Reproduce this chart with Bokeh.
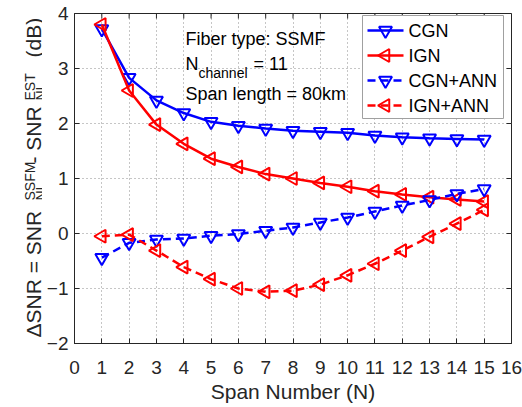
import math
from bokeh.plotting import figure
from bokeh.layouts import row
from bokeh.models import ColumnDataSource, Label, FixedTicker
from bokeh.core.properties import value
from bokeh.embed import file_html
from bokeh.resources import INLINE

# ---------------- data ----------------
spans = list(range(1, 16))
cgn = [3.72, 2.83, 2.42, 2.19, 2.03, 1.96, 1.91, 1.87, 1.85, 1.83, 1.78, 1.75, 1.73, 1.72, 1.71]
ign = [3.80, 2.60, 1.98, 1.63, 1.36, 1.21, 1.08, 1.00, 0.92, 0.85, 0.77, 0.71, 0.66, 0.62, 0.58]
cgn_ann = [-0.44, -0.17, -0.11, -0.09, -0.04, -0.01, 0.05, 0.11, 0.20, 0.29, 0.40, 0.51, 0.61, 0.72, 0.81]
ign_ann = [-0.05, -0.02, -0.31, -0.61, -0.83, -1.00, -1.06, -1.04, -0.93, -0.76, -0.55, -0.31, -0.06, 0.18, 0.43]

x_ticks = list(range(0, 17))
y_ticks = list(range(-2, 5))

series_names = ["CGN", "IGN", "CGN+ANN", "IGN+ANN"]

src = ColumnDataSource(dict(x=spans, cgn=cgn, ign=ign, cgn_ann=cgn_ann, ign_ann=ign_ann))

FONT = "Liberation Sans"
TXT = "#262626"
BLUE = "#0000ff"
RED = "#ff0000"

# ---------------- geometry ----------------
H = 407
LEFT_W = 42
AXIS_W = 32
FW, FH = 437, 330
TOP_B, BOT_B = 13, 64
X0, X1, Y0, Y1 = 0, 16, -2, 4

p = figure(frame_width=FW, frame_height=FH, x_range=(X0, X1), y_range=(Y0, Y1),
           output_backend="svg", toolbar_location=None,
           min_border_left=AXIS_W, min_border_right=11, min_border_top=TOP_B,
           min_border_bottom=BOT_B)
p.outline_line_color = TXT
p.background_fill_color = "white"
p.border_fill_color = "white"

for ax in (p.xaxis[0], p.yaxis[0]):
    ax.major_tick_in = 5
    ax.major_tick_out = 0
    ax.minor_tick_in = 0
    ax.minor_tick_out = 0
    ax.axis_line_color = TXT
    ax.major_tick_line_color = TXT
    ax.major_label_text_font = FONT
    ax.major_label_text_font_size = "19px"
    ax.major_label_text_color = TXT
p.xaxis.ticker = FixedTicker(ticks=x_ticks)
p.yaxis.ticker = FixedTicker(ticks=y_ticks)
p.xaxis.major_label_standoff = 17
p.yaxis.major_label_standoff = 6
p.xaxis.axis_label = "Span Number (N)"
p.xaxis.axis_label_text_font = FONT
p.xaxis.axis_label_text_font_size = "21px"
p.xaxis.axis_label_text_font_style = "normal"
p.xaxis.axis_label_text_color = TXT
p.xaxis.axis_label_standoff = 3

# inward ticks on top and right box edges
p.ray(x=x_ticks, y=[Y1] * len(x_ticks), length=5, length_units="screen",
      angle=-math.pi / 2, line_color=TXT, line_width=1)
p.ray(x=[X1] * len(y_ticks), y=y_ticks, length=5, length_units="screen",
      angle=math.pi, line_color=TXT, line_width=1)

# grid
p.xgrid.ticker = FixedTicker(ticks=x_ticks)
p.ygrid.ticker = FixedTicker(ticks=y_ticks)
for g in (p.xgrid[0], p.ygrid[0]):
    g.grid_line_color = "#8c8c8c"
    g.grid_line_dash = "1 3"
    g.grid_line_width = 1

MS = 13
LW = 2.5
DASH = "8 5"
p.line("x", "cgn", source=src, line_color=BLUE, line_width=LW)
p.scatter("x", "cgn", source=src, marker="inverted_triangle", size=MS,
          fill_color=None, line_color=BLUE, line_width=2)
p.line("x", "ign", source=src, line_color=RED, line_width=LW)
p.scatter("x", "ign", source=src, marker="triangle", angle=math.pi / 2, size=MS,
          fill_color=None, line_color=RED, line_width=2)
p.line("x", "cgn_ann", source=src, line_color=BLUE, line_width=LW, line_dash=DASH)
p.scatter("x", "cgn_ann", source=src, marker="inverted_triangle", size=MS,
          fill_color=None, line_color=BLUE, line_width=2)
p.line("x", "ign_ann", source=src, line_color=RED, line_width=LW, line_dash=DASH)
p.scatter("x", "ign_ann", source=src, marker="triangle", angle=math.pi / 2, size=MS,
          fill_color=None, line_color=RED, line_width=2)

# ---------------- legend (drawn by hand so marker directions are kept) ----------------
px_x = (X1 - X0) / FW
px_y = (Y1 - Y0) / FH
def dx(px):
    return X0 + px * px_x
def dy(px):
    return Y0 + px * px_y

LEG_L, LEG_R, LEG_T, LEG_B = 288, 429, 328, 225   # px inside the frame
ROW0, ROW_STEP = 313, 25
SAMPLE_L, SAMPLE_R, TEXT_X = 293, 329, 334
leg_colors = [BLUE, RED, BLUE, RED]
leg_markers = ["inverted_triangle", "triangle", "inverted_triangle", "triangle"]
leg_angles = [0, math.pi / 2, 0, math.pi / 2]
leg_dash = ["solid", "solid", DASH, DASH]

p.quad(left=[dx(LEG_L)], right=[dx(LEG_R)], top=[dy(LEG_T)], bottom=[dy(LEG_B)],
       fill_color="white", line_color="#a0a0a0", line_width=1)
for i, name in enumerate(series_names):
    ry = ROW0 - i * ROW_STEP
    p.segment(x0=[dx(SAMPLE_L)], x1=[dx(SAMPLE_R)], y0=[dy(ry)], y1=[dy(ry)],
              line_color=leg_colors[i], line_width=LW, line_dash=leg_dash[i])
    p.scatter(x=[dx((SAMPLE_L + SAMPLE_R) / 2)], y=[dy(ry)], marker=leg_markers[i],
              angle=leg_angles[i], size=MS, fill_color=None, line_color=leg_colors[i],
              line_width=2)
    p.add_layout(Label(x=TEXT_X, y=ry, x_units="screen", y_units="screen", text=name,
                       text_align="left", text_baseline="middle", text_font=FONT,
                       text_font_size="18px", text_color="black"))

# annotation text
def ann(text, x, y, size):
    p.add_layout(Label(x=x, y=y, x_units="screen", y_units="screen", text=text,
                       text_align="left", text_baseline="alphabetic",
                       text_font=FONT, text_font_size=size, text_color="black"))

ann("Fiber type: SSMF", 111, 305, "18px")
ann("N", 111, 280, "18px")
ann("channel", 124, 271, "14px")
ann("= 11", 179, 280, "18px")
ann("Span length = 80km", 111, 250, "18px")

# ---------------- rotated y-axis label (own narrow panel, frame aligned with the plot) ----------------
lab = figure(width=LEFT_W, height=H, x_range=(0, LEFT_W), y_range=(BOT_B, H - TOP_B),
             output_backend="svg", toolbar_location=None, min_border=0,
             min_border_top=TOP_B, min_border_bottom=BOT_B,
             x_axis_type=None, y_axis_type=None)
lab.outline_line_color = None
lab.xgrid.visible = False
lab.ygrid.visible = False
lab.background_fill_color = "white"
lab.border_fill_color = "white"

ylab_text = ["\u0394SNR = SNR", "SSFM", "NL", "- SNR", "EST", "NL", "(dB)"]
ylab_x = [33, 29, 40, 33, 29, 40, 33]
ylab_top = [337, 200, 200, 163, 100, 100, 57]
ylab_size = ["21px", "14px", "14px", "21px", "14px", "14px", "21px"]
for t, xx, yy, s in zip(ylab_text, ylab_x, ylab_top, ylab_size):
    lab.text(x=[xx], y=[H - yy], text=[t], angle=math.pi / 2, text_align="left",
             text_baseline="alphabetic", text_font=value(FONT), text_font_size=s,
             text_color=TXT)

layout = row(lab, p)
open("out.html", "w").write(file_html(layout, INLINE))
